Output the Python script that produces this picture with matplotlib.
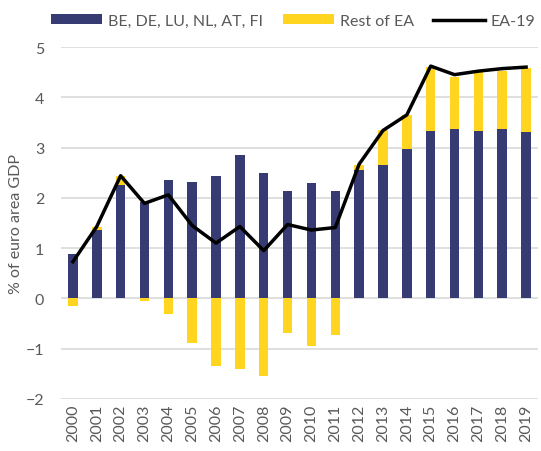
import matplotlib
matplotlib.use("Agg")
import matplotlib.pyplot as plt
import numpy as np

years = [str(y) for y in range(2000, 2020)]
core = [0.88, 1.37, 2.26, 1.91, 2.36, 2.32, 2.44, 2.85, 2.50, 2.14,
        2.29, 2.13, 2.56, 2.66, 2.98, 3.33, 3.36, 3.33, 3.36, 3.31]
rest = [-0.15, 0.06, 0.18, -0.05, -0.31, -0.88, -1.35, -1.41, -1.55, -0.68,
        -0.94, -0.73, 0.10, 0.68, 0.67, 1.27, 1.05, 1.17, 1.17, 1.27]
ea19 = [0.73, 1.43, 2.44, 1.89, 2.06, 1.45, 1.10, 1.43, 0.95, 1.47,
        1.36, 1.41, 2.67, 3.34, 3.65, 4.62, 4.45, 4.52, 4.57, 4.60]

navy = "#363B73"
yellow = "#FFD520"
grey = "#595959"

plt.rcParams["font.family"] = ["Lato", "DejaVu Sans"]

fig = plt.figure(figsize=(5.41, 4.52), dpi=100)
ax = fig.add_axes([61 / 541, 52 / 452, 477 / 541, 352 / 452])

x = np.arange(len(years))
core = np.array(core)
rest = np.array(rest)
bottom = np.where(rest >= 0, core, 0)

b1 = ax.bar(x, core, width=0.4, color=navy, label="BE, DE, LU, NL, AT, FI", zorder=2)
b2 = ax.bar(x, rest, width=0.4, bottom=bottom, color=yellow, label="Rest of EA", zorder=2)
ln, = ax.plot(x, ea19, color="black", lw=2.5, label="EA-19", zorder=3)

ax.set_xlim(-0.5, len(years) - 0.5)
ax.set_ylim(-2, 5)
ax.set_yticks(range(-2, 6))
ax.set_xticks(x)
ax.set_xticklabels(years, rotation=90)
ax.tick_params(axis="both", length=0, labelsize=11.5, colors=grey)
ax.tick_params(axis="y", pad=12)
ax.grid(axis="y", color="#D9D9D9", lw=1.2, zorder=0)
for s in ax.spines.values():
    s.set_visible(False)
ax.set_ylabel("% of euro area GDP", fontsize=11.5, color=grey, labelpad=2)

ax.legend([b1, b2, ln], [b1.get_label(), b2.get_label(), ln.get_label()],
          loc="upper center", bbox_to_anchor=(0.487, 1.135), ncol=3, frameon=False,
          fontsize=11.5, labelcolor=grey, handlelength=3.2, handleheight=0.6,
          columnspacing=1.2, handletextpad=0.4)

fig.savefig("out.png", dpi=100)
